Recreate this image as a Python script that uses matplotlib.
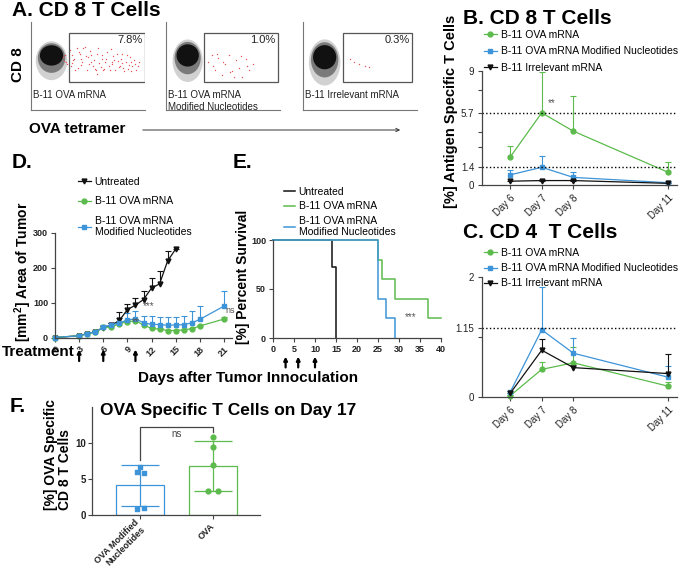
import numpy as np
import matplotlib
matplotlib.use("Agg")
import matplotlib.pyplot as plt
from matplotlib.patches import Ellipse, Rectangle, FancyArrowPatch

plt.rcParams['font.family'] = ['Liberation Sans', 'DejaVu Sans']
plt.rcParams['mathtext.fontset'] = 'custom'
plt.rcParams['mathtext.rm'] = 'Liberation Sans'
plt.rcParams['mathtext.bf'] = 'Liberation Sans:bold'

GREEN = '#5cbb4c'
BLUE = '#3d94d8'
BLACK = '#111111'
AXC = '#444444'

# ---------- A. flow cytometry (axis units 0-100) ----------
flow_names = ['B-11 OVA mRNA', 'B-11 OVA mRNA\nModified Nucleotides', 'B-11 Irrelevant mRNA']
flow_pct = ['7.8%', '1.0%', '0.3%']
gate_x0 = [33, 33, 35]
gate_x1 = [100, 98, 96]
gate_y0, gate_y1 = 32, 88
cluster_cx = [18, 19, 19]
cluster_cy = [62, 62, 60]
cluster_w = [24, 23, 24]
cluster_h = [42, 46, 50]
red_x = [
    [28, 31, 33, 35, 36, 38, 40, 41, 43, 45, 47, 49, 50, 52, 54, 55, 57, 59, 60, 62, 64, 66,
     67, 69, 71, 72, 74, 76, 78, 80, 81, 83, 85, 87, 89, 91, 39, 46, 56, 63, 70, 84, 88, 34, 44,
     30, 32, 37, 42, 48, 51, 53, 58, 61, 65, 68, 73, 75, 77, 79, 82, 86, 90, 92, 94, 29, 36, 44,
     53, 62, 71, 80, 88, 95, 58],
    [37, 40, 43, 46, 49, 52, 55, 58, 61, 64, 67, 70, 73, 76, 45, 60, 41, 50, 56, 66, 71],
    [41, 45, 49, 54, 58],
]
red_y = [
    [60, 55, 66, 50, 62, 58, 70, 48, 64, 55, 72, 46, 60, 67, 50, 57, 45, 70, 53, 62, 47, 58,
     66, 45, 52, 61, 46, 56, 50, 64, 48, 55, 47, 60, 50, 52, 45, 71, 47, 46, 69, 63, 54, 68, 58,
     63, 52, 57, 66, 61, 52, 55, 64, 49, 55, 50, 57, 64, 49, 58, 44, 51, 57, 46, 50, 56, 53, 51,
     62, 58, 55, 53, 44, 55, 41],
    [55, 62, 45, 59, 40, 52, 63, 44, 57, 48, 38, 58, 46, 52, 64, 37, 50, 54, 43, 61, 50],
    [58, 55, 52, 50, 49],
]

# ---------- B / C. time course ----------
days_bc = [6, 7, 8, 11]
b_ova = [2.2, 5.7, 4.25, 1.0]
b_ova_err = [0.85, 3.2, 2.8, 0.8]
b_mod = [0.8, 1.4, 0.6, 0.18]
b_mod_err = [0.35, 0.9, 0.4, 0.05]
b_irr = [0.3, 0.35, 0.35, 0.13]
b_irr_err = [0.0, 0.0, 0.0, 0.0]

c_ova = [0.02, 0.46, 0.57, 0.18]
c_ova_err = [0.01, 0.12, 0.26, 0.07]
c_mod = [0.08, 1.12, 0.73, 0.33]
c_mod_err = [0.02, 0.72, 0.26, 0.18]
c_irr = [0.06, 0.78, 0.49, 0.39]
c_irr_err = [0.01, 0.18, 0.05, 0.33]

# ---------- D. tumour area ----------
days_untr = [0, 3, 4, 5, 6, 7, 8, 9, 10, 11, 12, 13, 14, 15]
area_untr = [0, 5, 11, 16, 28, 35, 49, 80, 93, 109, 142, 154, 220, 254]
sd_untr = [0, 1, 2, 3, 5, 8, 24, 16, 19, 24, 29, 36, 29, 0]
days_trt = [0, 3, 4, 5, 6, 7, 8, 9, 10, 11, 12, 13, 14, 15, 16, 17, 18, 21]
area_ova = [0, 5, 11, 15, 29, 30, 40, 45, 48, 36, 26, 24, 20, 20, 22, 25, 33, 53]
sd_ova = [0, 1, 2, 2, 4, 3, 5, 6, 5, 4, 3, 3, 2, 2, 3, 3, 4, 6]
area_mod = [0, 5, 11, 16, 30, 36, 42, 50, 54, 42, 38, 37, 35, 36, 37, 42, 52, 90]
sd_mod = [0, 1, 2, 3, 5, 6, 14, 20, 23, 21, 23, 22, 24, 23, 24, 33, 37, 43]
treat_days = [3, 6, 10]

# ---------- E. survival ----------
surv_t_untr = [0, 14, 15]
surv_untr = [100, 72, 0]
surv_t_ova = [0, 25, 26, 29, 37, 40]
surv_ova = [100, 80, 60, 40, 20, 20]
surv_t_mod = [0, 25, 27, 29]
surv_mod = [100, 40, 20, 0]

# ---------- F. day 17 ----------
f_groups = ['OVA Modified\nNucleotides', 'OVA']
f_mod_pts = [6.7, 6.0, 5.9, 0.9, 1.0]
f_ova_pts = [10.8, 9.5, 6.9, 3.3, 3.4]
f_mod_jit = [0, -0.05, 0.05, -0.05, 0.05]
f_ova_jit = [0, 0, 0, -0.07, 0.07]

W, H = 679, 568
fig = plt.figure(figsize=(W / 100, H / 100), dpi=100)


def box(x0, y0, x1, y1):
    return [x0 / W, 1 - y1 / H, (x1 - x0) / W, (y1 - y0) / H]


def ftext(x, y, s, **kw):
    fig.text(x / W, 1 - y / H, s, **kw)


def style(ax, bold=False, pad=2.5, size=7):
    for s in ['top', 'right']:
        ax.spines[s].set_visible(False)
    for s in ['left', 'bottom']:
        ax.spines[s].set_color(AXC)
        ax.spines[s].set_linewidth(0.9)
    ax.tick_params(length=3, width=0.8, colors=AXC, labelsize=size, labelcolor='#222', pad=pad)
    if bold:
        for t in ax.get_xticklabels() + ax.get_yticklabels():
            t.set_fontweight('bold')


def upper_err(ax, x, y, err, color, cap=4):
    top = np.asarray(y) + np.asarray(err)
    ax.vlines(x, y, top, color=color, lw=0.8, zorder=2)
    ax.plot(x, top, ls='none', marker='_', ms=cap, mew=0.8, color=color, zorder=2)


def arrows(ax, head, tail):
    for d in treat_days:
        ax.annotate('', xy=(d, head), xycoords=('data', 'axes fraction'), xytext=(d, tail),
                    textcoords=('data', 'axes fraction'), annotation_clip=False,
                    arrowprops=dict(arrowstyle='-|>', color='k', lw=1.6, mutation_scale=5,
                                    shrinkA=0, shrinkB=0))


# ---- A
flow_boxes = [(31, 22, 145, 110), (166, 22, 280, 110), (303, 22, 417, 110)]
for i, b in enumerate(flow_boxes):
    ax = fig.add_axes(box(*b))
    ax.set_xlim(0, 100)
    ax.set_ylim(0, 100)
    for s in ['top', 'right']:
        ax.spines[s].set_visible(False)
    for s in ['left', 'bottom']:
        ax.spines[s].set_color('#777')
        ax.spines[s].set_linewidth(0.8)
    ax.set_xticks([])
    ax.set_yticks([])
    ax.set_facecolor('none')
    cx, cy, w, h = cluster_cx[i], cluster_cy[i], cluster_w[i], cluster_h[i]
    ax.add_patch(Ellipse((cx, cy - 6), w * 1.15, h * 1.05, color='#999', alpha=0.45, lw=0))
    ax.add_patch(Ellipse((cx, cy - 3), w * 1.0, h * 0.8, color='#555', alpha=0.7, lw=0))
    ax.add_patch(Ellipse((cx, cy), w * 0.85, h * 0.55, color='#111', lw=0))
    ax.scatter(red_x[i], red_y[i], s=1.0, color='#e8505a', lw=0)
    ax.add_patch(Rectangle((gate_x0[i], gate_y0), gate_x1[i] - gate_x0[i], gate_y1 - gate_y0,
                           fill=False, edgecolor='#555', lw=0.9))
    ax.text(gate_x1[i] - 2, gate_y1 - 3, flow_pct[i], ha='right', va='top', fontsize=8, color='#222')
    ax.text(2, 23, flow_names[i], ha='left', va='top', fontsize=7, color='#222', linespacing=1.3)

ftext(12, 11, 'A. CD 8 T Cells', fontsize=15, fontweight='bold', va='center')
ftext(18, 65, 'CD 8', fontsize=11, fontweight='bold', rotation=90, ha='center', va='center')
ftext(29, 129, 'OVA tetramer', fontsize=11, fontweight='bold', va='center')
fig.add_artist(FancyArrowPatch((140 / W, 1 - 130 / H), (403 / W, 1 - 130 / H),
                               transform=fig.transFigure, arrowstyle='->',
                               mutation_scale=6, lw=0.7, color='#333'))


# ---- B and C
def timecourse(ax, ova, ova_e, mod, mod_e, irr, irr_e):
    upper_err(ax, days_bc, ova, ova_e, GREEN)
    upper_err(ax, days_bc, mod, mod_e, BLUE)
    upper_err(ax, days_bc, irr, irr_e, BLACK)
    l1, = ax.plot(days_bc, ova, color=GREEN, marker='o', ms=3.5, lw=0.9, label='B-11 OVA mRNA', clip_on=False)
    l2, = ax.plot(days_bc, mod, color=BLUE, marker='s', ms=3.5, lw=0.9,
                  label='B-11 OVA mRNA Modified Nucleotides', clip_on=False)
    l3, = ax.plot(days_bc, irr, color=BLACK, marker='v', ms=3.5, lw=0.9, label='B-11 Irrelevant mRNA',
                  clip_on=False)
    ax.set_xlim(5.11, 11.28)
    ax.set_xticks(days_bc)
    ax.set_xticklabels(['Day %d' % d for d in days_bc], rotation=45, ha='right', rotation_mode='anchor')
    return [l1, l2, l3]


axB = fig.add_axes(box(482, 71, 677, 185))
hB = timecourse(axB, b_ova, b_ova_err, b_mod, b_mod_err, b_irr, b_irr_err)
axB.set_ylim(0, 9)
axB.set_yticks([0, 1.4, 5.7, 9])
axB.set_yticklabels(['0', '1.4', '5.7', '9'])
axB.set_yticks([3, 4.2, 7.5], minor=True)
axB.axhline(5.7, ls=':', color='k', lw=1)
axB.axhline(1.4, ls=':', color='k', lw=1)
axB.text(7.2, 6.25, '**', fontsize=7, color='#555')
style(axB)
axB.tick_params(which='minor', length=3, width=0.8, colors=AXC)
axB.legend(handles=hB, loc='upper left', bbox_to_anchor=(484 / W, 1 - 30 / H), bbox_transform=fig.transFigure,
           frameon=False, fontsize=7.5, handlelength=1.2, handletextpad=0.4, labelspacing=0.62,
           borderpad=0, borderaxespad=0)
ftext(463, 18, 'B. CD 8 T Cells', fontsize=15, fontweight='bold', va='center')
ftext(451, 111, '[%] Antigen Specific T Cells', fontsize=10.5, fontweight='bold', rotation=90,
      ha='center', va='center')

axC = fig.add_axes(box(482, 277, 677, 397))
hC = timecourse(axC, c_ova, c_ova_err, c_mod, c_mod_err, c_irr, c_irr_err)
axC.set_ylim(0, 2)
axC.set_yticks([0, 1.15, 2])
axC.set_yticklabels(['0', '1.15', '2'])
axC.set_yticks([1], minor=True)
axC.axhline(1.15, ls=':', color='k', lw=1)
style(axC)
axC.tick_params(which='minor', length=3, width=0.8, colors=AXC)
axC.legend(handles=hC, loc='upper left', bbox_to_anchor=(484 / W, 1 - 248 / H), bbox_transform=fig.transFigure,
           frameon=False, fontsize=7.5, handlelength=1.2, handletextpad=0.4, labelspacing=0.5,
           borderpad=0, borderaxespad=0)
ftext(463, 232, 'C. CD 4  T Cells', fontsize=15, fontweight='bold', va='center')

# ---- D
axD = fig.add_axes(box(55, 233, 232, 337.5))
upper_err(axD, days_untr, area_untr, sd_untr, BLACK)
upper_err(axD, days_trt, area_mod, sd_mod, BLUE)
upper_err(axD, days_trt, area_ova, sd_ova, GREEN)
d1, = axD.plot(days_untr, area_untr, color=BLACK, marker='v', ms=3.5, lw=0.9, label='Untreated', clip_on=False)
d2, = axD.plot(days_trt, area_ova, color=GREEN, marker='o', ms=3.5, lw=0.9, label='B-11 OVA mRNA', clip_on=False)
d3, = axD.plot(days_trt, area_mod, color=BLUE, marker='s', ms=3.5, lw=0.9,
               label='B-11 OVA mRNA\nModified Nucleotides', clip_on=False)
axD.set_xlim(0, 22)
axD.set_ylim(0, 300)
axD.set_xticks(range(0, 22, 3))
axD.set_xticklabels([str(d) for d in range(0, 22, 3)], rotation=45, ha='right', rotation_mode='anchor')
axD.set_yticks([0, 100, 200, 300])
axD.text(10.9, 82, '***', fontsize=7, color='#555')
axD.text(9.6, 36, '**', fontsize=7, color='#555')
axD.text(21.2, 70, 'ns', fontsize=6.5, color='#555')
style(axD, bold=True, pad=2, size=6.5)
axD.legend(handles=[d1, d2, d3], loc='upper left', bbox_to_anchor=(78 / W, 1 - 177 / H),
           bbox_transform=fig.transFigure, frameon=False, fontsize=7.5, handlelength=1.2,
           handletextpad=0.4, labelspacing=0.9, borderpad=0, borderaxespad=0)
arrows(axD, -0.115, -0.225)
ftext(12, 162, 'D.', fontsize=15, fontweight='bold', va='center')
ftext(23, 272, '[mm$^\\mathbf{2}$] Area of Tumor', fontsize=10, fontweight='bold', rotation=90,
      ha='center', va='center')
ftext(2, 352, 'Treatment', fontsize=11, fontweight='bold', va='center')
ftext(248, 378, 'Days after Tumor Innoculation', fontsize=11, fontweight='bold', va='center', ha='center')

# ---- E
axE = fig.add_axes(box(273, 240, 441, 338))
e1, = axE.step(surv_t_untr, surv_untr, where='post', color=BLACK, lw=1.1, label='Untreated', clip_on=False)
e2, = axE.step(surv_t_ova, surv_ova, where='post', color=GREEN, lw=1.1, label='B-11 OVA mRNA', clip_on=False)
e3, = axE.step(surv_t_mod, surv_mod, where='post', color=BLUE, lw=1.1,
               label='B-11 OVA mRNA\nModified Nucleotides', clip_on=False)
axE.set_xlim(0, 40)
axE.set_ylim(0, 100)
axE.set_xticks(range(0, 41, 5))
axE.set_yticks([0, 50, 100])
axE.text(31.5, 18, '***', fontsize=7, color='#555')
style(axE, bold=True, pad=2, size=6.5)
axE.legend(handles=[e1, e2, e3], loc='upper left', bbox_to_anchor=(284 / W, 1 - 187 / H),
           bbox_transform=fig.transFigure, frameon=False, fontsize=7.5, handlelength=1.1,
           handletextpad=0.3, labelspacing=0.42, borderpad=0, borderaxespad=0)
arrows(axE, -0.19, -0.3)
ftext(233, 162, 'E.', fontsize=15, fontweight='bold', va='center')
ftext(243, 277, '[%] Percent Survival', fontsize=10, fontweight='bold', rotation=90,
      ha='center', va='center')

# ---- F
axF = fig.add_axes(box(92, 407, 260, 515))
means = [np.mean(f_mod_pts), np.mean(f_ova_pts)]
sds = [np.std(f_mod_pts, ddof=1), np.std(f_ova_pts, ddof=1)]
cols = [BLUE, GREEN]
axF.bar([0, 1], means, width=0.66, fill=False, edgecolor=cols, lw=0.9)
for i in range(2):
    axF.errorbar(i, means[i], yerr=sds[i], fmt='none', ecolor=cols[i], elinewidth=0.9, capsize=14, capthick=0.9)
axF.scatter(np.array(f_mod_jit) + 0, f_mod_pts, marker='s', s=12, color=BLUE, zorder=3)
axF.scatter(np.array(f_ova_jit) + 1, f_ova_pts, marker='o', s=12, color=GREEN, zorder=3)
axF.plot([0, 0, 1, 1], [7.6, 12.2, 12.2, 11.5], color='#444', lw=0.9)
axF.text(0.5, 11.9, 'ns', ha='center', va='top', fontsize=7, color='#444')
axF.set_xlim(-0.66, 1.64)
axF.set_ylim(0, 15)
axF.set_xticks([0, 1])
axF.set_xticklabels(f_groups, rotation=45, ha='right', va='center', rotation_mode='anchor',
                    linespacing=1.0)
axF.set_yticks([0, 5, 10])
style(axF, bold=True, pad=1.5)
for t in axF.get_xticklabels():
    t.set_fontsize(6.5)
axF.tick_params(axis='x', pad=4)
ftext(10, 407, 'F.', fontsize=15, fontweight='bold', va='center')
ftext(100, 411, 'OVA Specific T Cells on Day 17', fontsize=12.5, fontweight='bold', va='center')
ftext(58, 455, '[%] OVA Specific\nCD 8 T Cells', fontsize=10, fontweight='bold', rotation=90,
      ha='center', va='center', multialignment='left', linespacing=1.0)

fig.savefig('out.png', dpi=100)
